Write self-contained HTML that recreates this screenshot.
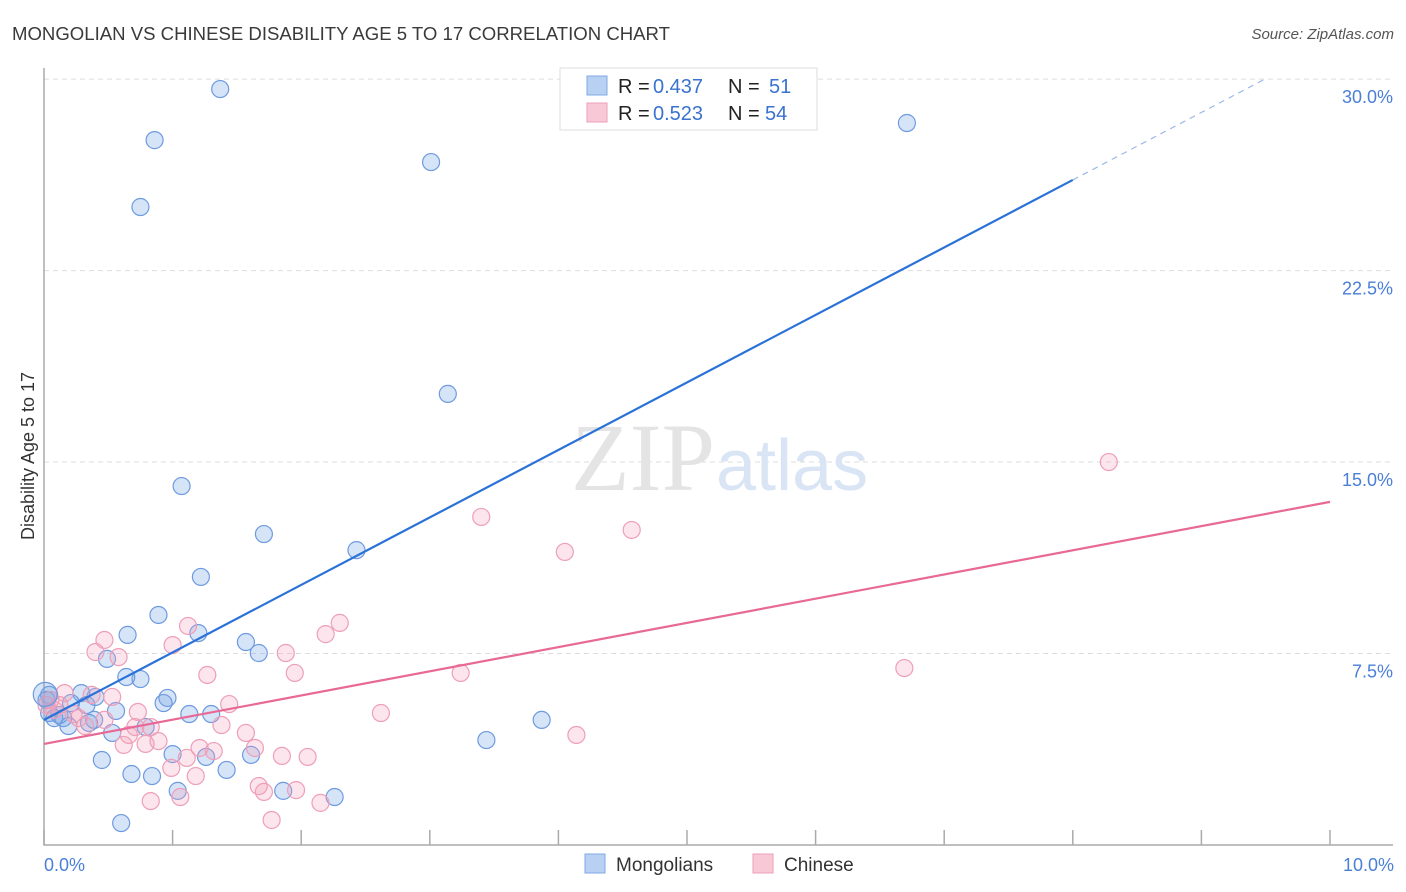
<!DOCTYPE html>
<html><head><meta charset="utf-8"><style>
body{margin:0;background:#fff;font-family:"Liberation Sans",sans-serif;}
#wrap{position:relative;width:1406px;height:892px;overflow:hidden;}
</style></head><body>
<div id="wrap">
<svg id="svg" width="1406" height="892" xmlns="http://www.w3.org/2000/svg">
<text x="12" y="40" font-size="18" fill="#3a3a3a" textLength="658" lengthAdjust="spacingAndGlyphs">MONGOLIAN VS CHINESE DISABILITY AGE 5 TO 17 CORRELATION CHART</text>
<text x="1394" y="39" font-size="15" fill="#555" font-style="italic" text-anchor="end">Source: ZipAtlas.com</text>
<text x="34" y="456" font-size="18" fill="#333" text-anchor="middle" transform="rotate(-90 34 456)">Disability Age 5 to 17</text>
<g id="grid"></g>
<text x="715" y="490" font-size="96" fill="#e4e4e4" text-anchor="end" font-family="Liberation Serif,serif">ZIP</text>
<text x="716" y="490" font-size="72" fill="#d9e5f5">atlas</text>
<g id="pts"></g>
<g id="lines"></g>
<g id="legend">
<rect x="560" y="68" width="257" height="62" fill="#fff" stroke="#ddd"/>
<rect x="587" y="76" width="20" height="19" fill="#b8d1f3" stroke="#7fa8e6"/>
<rect x="587" y="103" width="20" height="19" fill="#f9c8d6" stroke="#ee9fb8"/>
<text x="618" y="93" font-size="20" fill="#222">R =</text>
<text x="653" y="93" font-size="20" fill="#3a72d0">0.437</text>
<text x="728" y="93" font-size="20" fill="#222">N =</text>
<text x="769" y="93" font-size="20" fill="#3a72d0">51</text>
<text x="618" y="120" font-size="20" fill="#222">R =</text>
<text x="653" y="120" font-size="20" fill="#3a72d0">0.523</text>
<text x="728" y="120" font-size="20" fill="#222">N =</text>
<text x="765" y="120" font-size="20" fill="#3a72d0">54</text>
</g>
<g>
<rect x="585" y="854" width="20" height="19" fill="#b8d1f3" stroke="#7fa8e6"/>
<text x="616" y="871" font-size="19" fill="#333">Mongolians</text>
<rect x="753" y="854" width="20" height="19" fill="#f9c8d6" stroke="#ee9fb8"/>
<text x="784" y="871" font-size="19" fill="#333">Chinese</text>
</g>
</svg>
</div>
<script>
const yTicks=[7.5,15,22.5,30];
const yTickLabels=["7.5%","15.0%","22.5%","30.0%"];
const xTicks=[0,1,2,3,4,5,6,7,8,9,10];
const blueX=[1.37,0.86,0.75,3.01,6.71,3.14,1.07,1.71,2.43,1.22,0.89,0.65,1.20,1.57,1.67,0.49,0.75,0.64,0.96,0.93,0.40,0.29,0.33,0.21,0.56,1.13,1.30,0.79,0.39,0.19,0.35,0.12,0.08,0.04,0.04,0.53,3.87,3.44,1.00,1.26,1.61,0.45,0.68,0.84,1.42,1.04,1.86,2.26,0.60,0.02,0.15];
const blueY=[29.61,27.61,24.99,26.75,28.28,17.67,14.06,12.18,11.55,10.50,9.01,8.23,8.30,7.95,7.52,7.29,6.50,6.58,5.76,5.56,5.80,5.95,5.48,5.56,5.25,5.13,5.13,4.62,4.90,4.66,4.78,5.09,4.97,5.17,5.88,4.39,4.90,4.11,3.56,3.45,3.53,3.33,2.78,2.70,2.94,2.12,2.12,1.88,0.86,5.68,4.97];
const pinkX=[8.28,3.40,4.57,4.05,2.30,1.12,2.19,0.47,1.00,0.40,0.58,1.88,1.95,1.27,3.24,6.69,0.53,0.37,0.16,1.44,2.62,0.73,0.05,0.23,0.47,1.38,0.71,0.83,0.32,1.57,0.89,0.62,0.79,4.14,1.64,1.21,1.32,1.11,2.05,1.85,0.99,1.18,1.67,1.71,1.96,1.06,0.83,2.15,1.77,0.08,0.12,0.27,0.02,0.66];
const pinkY=[15.00,12.85,12.34,11.48,8.70,8.58,8.26,8.03,7.83,7.56,7.36,7.52,6.74,6.66,6.74,6.93,5.80,5.88,5.95,5.52,5.17,5.21,5.68,5.13,4.90,4.70,4.62,4.62,4.66,4.39,4.07,3.92,3.96,4.31,3.80,3.80,3.68,3.41,3.45,3.49,3.02,2.70,2.31,2.08,2.15,1.88,1.72,1.65,0.98,5.29,5.48,4.97,5.48,4.31];
const blueLine=[4.9,26.05]; // values at x=0 and x=8
const pinkLine=[3.96,13.44]; // values at x=0 and x=10
const NS="http://www.w3.org/2000/svg";
const sx=v=>44+v*128.6, sy=v=>845-v*25.53;
function mk(tag,attrs,parent){const e=document.createElementNS(NS,tag);for(const k in attrs)e.setAttribute(k,attrs[k]);parent.appendChild(e);return e;}
const grid=document.getElementById('grid');
yTicks.forEach((t,i)=>{
 const l=mk('line',{x1:44,x2:1393,y1:sy(t),y2:sy(t),stroke:'#ddd','stroke-dasharray':'5,4'},grid);
 
 
 const tx=mk('text',{x:1393,y:sy(t)+24,'font-size':18,fill:'#4a7fd6','text-anchor':'end'},grid);
 tx.textContent=yTickLabels[i];
 
 
});
const ax=mk('path',{d:'M44 68V845H1393',stroke:'#aaa',fill:'none','stroke-width':1.5},grid);


xTicks.forEach(t=>{
 const l=mk('line',{x1:sx(t),x2:sx(t),y1:830,y2:845,stroke:'#aaa','stroke-width':1.5},grid);
 
 
});
[[0,'0.0%','start',44],[10,'10.0%','end',1394]].forEach(a=>{
 const tx=mk('text',{x:a[3],y:871,'font-size':18,fill:'#4a7fd6','text-anchor':a[2]},grid);
 tx.textContent=a[1];
 
 
});
const pts=document.getElementById('pts');
blueX.forEach((x,i)=>{
 const c=mk('circle',{cx:sx(x),cy:sy(blueY[i]),r:8.5,fill:'rgba(120,165,230,0.3)',stroke:'#6e9ae0','stroke-width':1.2},pts);
 
 
});
pinkX.forEach((x,i)=>{
 const c=mk('circle',{cx:sx(x),cy:sy(pinkY[i]),r:8.5,fill:'rgba(244,160,188,0.28)',stroke:'#ee9fb8','stroke-width':1.2},pts);
 
 
});
const big=mk('circle',{cx:sx(0.01),cy:sy(5.9),r:12,fill:'rgba(120,165,230,0.3)',stroke:'#6e9ae0','stroke-width':1.2},pts);


const lines=document.getElementById('lines');
const slope=(blueLine[1]-blueLine[0])/8;
const l1=mk('line',{x1:sx(0),y1:sy(blueLine[0]),x2:sx(8),y2:sy(blueLine[1]),stroke:'#2a72d8','stroke-width':2.2},lines);


const xe=(30-blueLine[0])/slope;
const l2=mk('line',{x1:sx(8),y1:sy(blueLine[1]),x2:sx(xe),y2:sy(30),stroke:'#9bb8e8','stroke-width':1.2,'stroke-dasharray':'6,5'},lines);


const l3=mk('line',{x1:sx(0),y1:sy(pinkLine[0]),x2:sx(10),y2:sy(pinkLine[1]),stroke:'#e86896','stroke-width':2.2},lines);


</script>
</body></html>
